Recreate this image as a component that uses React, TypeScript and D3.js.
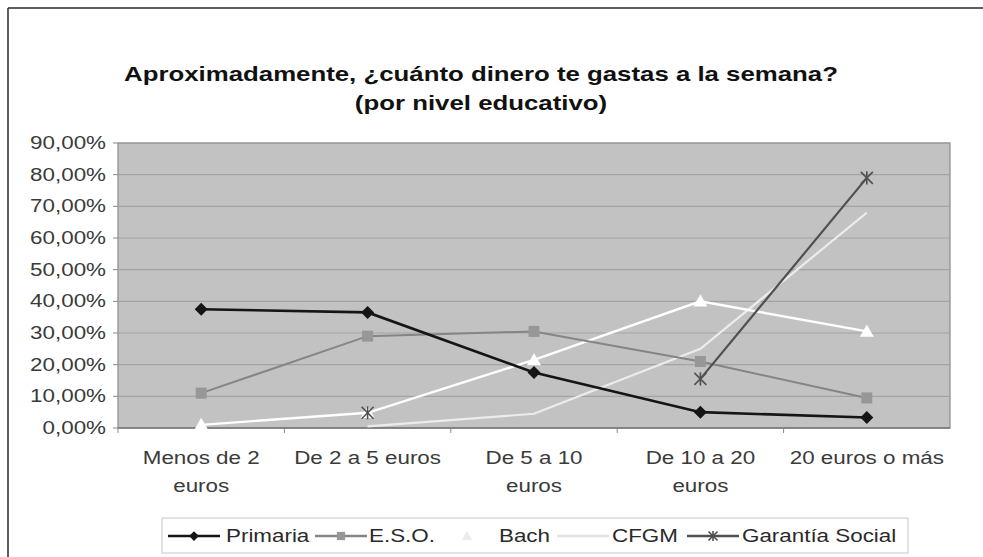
import React from "react";
import * as d3 from "d3";

const categories = ["Menos de 2 euros", "De 2 a 5 euros", "De 5 a 10 euros", "De 10 a 20 euros", "20 euros o más"];
const categoryLines = [["Menos de 2", "euros"], ["De 2 a 5 euros"], ["De 5 a 10", "euros"], ["De 10 a 20", "euros"], ["20 euros o más"]];
const primaria = [37.5, 36.5, 17.5, 5.0, 3.3];
const eso = [11.0, 29.0, 30.5, 21.0, 9.5];
const bach = [1.0, 4.8, 21.5, 40.0, 30.5];
const cfgm: (number | null)[] = [null, 0.5, 4.5, 25.0, 68.0];
const garantia: (number | null)[] = [null, 4.8, null, 15.5, 79.0];
const yTicks = [0, 10, 20, 30, 40, 50, 60, 70, 80, 90];
const titleLines = ["Aproximadamente, ¿cuánto dinero te gastas a la semana?", "(por nivel educativo)"];

const W = 983, H = 557;
const plot = { left: 118, right: 950, top: 143, bottom: 428 };
const FONT = "Arial, 'Liberation Sans', sans-serif";
const SX = 1.28;

type Series = { name: string; values: (number | null)[]; stroke: string; width: number; marker: string; fill: string; legendStroke: string; legendFill: string };

const series: Series[] = [
  { name: "Primaria", values: primaria, stroke: "#151515", width: 2.6, marker: "diamond", fill: "#151515", legendStroke: "#151515", legendFill: "#151515" },
  { name: "E.S.O.", values: eso, stroke: "#858585", width: 2, marker: "square", fill: "#979797", legendStroke: "#858585", legendFill: "#979797" },
  { name: "Bach", values: bach, stroke: "#ffffff", width: 2.4, marker: "triangle", fill: "#ffffff", legendStroke: "#ffffff", legendFill: "#ececec" },
  { name: "CFGM", values: cfgm, stroke: "#ececec", width: 2.2, marker: "none", fill: "#eeeeee", legendStroke: "#e2e2e2", legendFill: "#e2e2e2" },
  { name: "Garantía Social", values: garantia, stroke: "#505050", width: 2.2, marker: "star", fill: "#505050", legendStroke: "#505050", legendFill: "#505050" },
];

function SText({ x, y, children, anchor = "start", size = 17.5, weight = "normal", fill = "#3a3a3a", sx = SX }: any) {
  return (
    <text transform={`translate(${x},${y}) scale(${sx},1)`} x={0} y={0} dy="0.35em" textAnchor={anchor} fontSize={size} fontWeight={weight} fill={fill}>
      {children}
    </text>
  );
}

function Marker({ type, x, y, fill, size = 1 }: { type: string; x: number; y: number; fill: string; size?: number }) {
  if (type === "diamond") {
    const s = 6.5 * size;
    return <path d={`M${x},${y - s}L${x + s},${y}L${x},${y + s}L${x - s},${y}Z`} fill={fill} />;
  }
  if (type === "square") {
    const s = 5.5 * size;
    return <rect x={x - s} y={y - s} width={2 * s} height={2 * s} fill={fill} />;
  }
  if (type === "triangle") {
    const s = 7 * size;
    return <path d={`M${x},${y - s}L${x + s},${y + s * 0.75}L${x - s},${y + s * 0.75}Z`} fill={fill} />;
  }
  if (type === "star") {
    const s = 6 * size;
    return (
      <g stroke={fill} strokeWidth={1.6}>
        <line x1={x - s} y1={y - s} x2={x + s} y2={y + s} />
        <line x1={x - s} y1={y + s} x2={x + s} y2={y - s} />
        <line x1={x} y1={y - s * 1.1} x2={x} y2={y + s * 1.1} />
      </g>
    );
  }
  return null;
}

export default function App() {
  const x = d3.scaleBand<string>().domain(categories).range([plot.left, plot.right]).padding(0);
  const cx = (c: string) => (x(c) as number) + x.bandwidth() / 2;
  const y = d3.scaleLinear().domain([0, 90]).range([plot.bottom, plot.top]);

  const lineGen = (vals: (number | null)[]) =>
    d3
      .line<number | null>()
      .defined((d) => d !== null)
      .x((_, i) => cx(categories[i]))
      .y((d) => y(d as number))(vals) || "";

  const legendItems = [
    { s: series[0], lx: 168, tx: 226 },
    { s: series[1], lx: 315, tx: 369 },
    { s: series[2], lx: 441, tx: 499 },
    { s: series[3], lx: 557, tx: 612 },
    { s: series[4], lx: 687, tx: 742 },
  ];

  return (
    <svg width={W} height={H} style={{ position: "absolute", left: 0, top: 0, background: "#ffffff" }} fontFamily={FONT}>
      <rect x={0} y={0} width={W} height={H} fill="#ffffff" />
      <line x1={8} y1={8} x2={W} y2={8} stroke="#2a2a2a" strokeWidth={1.5} />
      <line x1={8} y1={8} x2={8} y2={H} stroke="#2a2a2a" strokeWidth={1.5} />

      {titleLines.map((t, i) => (
        <SText key={i} x={481} y={74 + i * 29} anchor="middle" size={20} weight="bold" fill="#111" sx={1.29}>
          {t}
        </SText>
      ))}

      <rect x={plot.left} y={plot.top} width={plot.right - plot.left} height={plot.bottom - plot.top} fill="#c2c2c2" stroke="#8a8a8a" strokeWidth={1.2} />
      {yTicks.map((t) => (
        <g key={t}>
          <line x1={plot.left} x2={plot.right} y1={y(t)} y2={y(t)} stroke={t === 0 ? "#777" : "#a3a3a3"} strokeWidth={t === 0 ? 1.5 : 1.2} />
          <line x1={plot.left - 5} x2={plot.left} y1={y(t)} y2={y(t)} stroke="#888" />
          <SText x={106} y={y(t)} anchor="end">
            {t.toFixed(2).replace(".", ",")}%
          </SText>
        </g>
      ))}
      {categories.map((c, i) => (
        <g key={c}>
          <line x1={x(c) as number} x2={x(c) as number} y1={plot.bottom} y2={plot.bottom + 5} stroke="#888" />
          {categoryLines[i].map((l, j) => (
            <SText key={j} x={cx(c)} y={458 + j * 28} anchor="middle">
              {l}
            </SText>
          ))}
        </g>
      ))}

      {[series[3], series[2], series[1], series[0], series[4]].map((s) => (
        <g key={s.name}>
          <path d={lineGen(s.values)} fill="none" stroke={s.stroke} strokeWidth={s.width} />
          {s.values.map((v, i) =>
            v === null ? null : <Marker key={i} type={s.marker} x={cx(categories[i])} y={y(v)} fill={s.fill} />
          )}
        </g>
      ))}

      <rect x={162} y={518} width={746} height={35} fill="#ffffff" stroke="#cfcfcf" strokeWidth={1.2} />
      {legendItems.map(({ s, lx, tx }) => (
        <g key={s.name}>
          <line x1={lx} x2={lx + 52} y1={536} y2={536} stroke={s.legendStroke} strokeWidth={2.4} />
          <Marker type={s.marker} x={lx + 26} y={536} fill={s.legendFill} size={0.75} />
          <SText x={tx} y={536} fill="#2a2a2a">
            {s.name}
          </SText>
        </g>
      ))}
    </svg>
  );
}
